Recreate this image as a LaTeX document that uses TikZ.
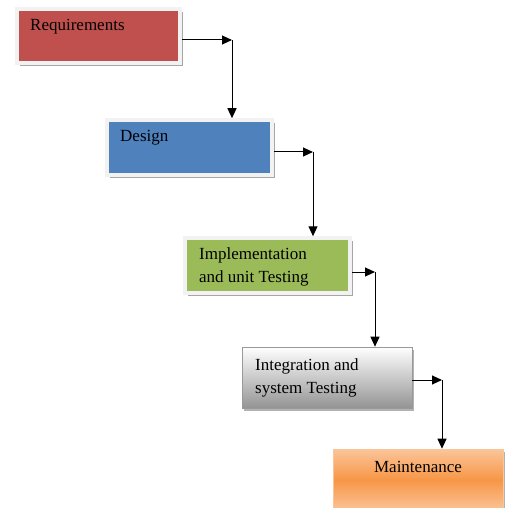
\documentclass[tikz,border=0pt]{standalone}
\usepackage{fontspec}
\setmainfont{Liberation Serif}
\usetikzlibrary{arrows.meta,shadows}
\definecolor{reqred}{HTML}{C0504D}
\definecolor{desblue}{HTML}{4F81BD}
\definecolor{impgreen}{HTML}{9BBB59}
\definecolor{frameg}{HTML}{F2F2F2}
\definecolor{orlight}{HTML}{FBC59A}
\definecolor{ormid}{HTML}{F79646}
\begin{document}
\begin{tikzpicture}[x=1pt,y=-1pt,
  phase/.style={rectangle, inner sep=0pt, draw=frameg, line width=3.5pt,
    drop shadow={shadow xshift=2.5pt, shadow yshift=-3pt, fill=black!35, opacity=1}},
  plainphase/.style={rectangle, inner sep=0pt, draw=black!40, line width=0.6pt,
    drop shadow={shadow xshift=2pt, shadow yshift=-2.5pt, fill=black!30, opacity=1}},
  lbl/.style={anchor=base west, inner sep=0pt, font=\fontsize{17}{23}\selectfont, align=left},
  flow/.style={line width=1pt, -{Triangle[length=10pt,width=9pt]}}
]
\useasboundingbox (0,0) rectangle (509,508);

% boxes
\node[phase, fill=reqred, minimum width=163pt, minimum height=54pt] (req) at (98.5,36) {};
\node[phase, fill=desblue, minimum width=165pt, minimum height=55pt] (des) at (189.5,147.5) {};
\node[phase, fill=impgreen, minimum width=165pt, minimum height=55pt] (imp) at (267.5,265.5) {};
\node[plainphase, top color=white, bottom color=black!42, minimum width=170pt, minimum height=61pt] (int) at (327,377.5) {};
\node[plainphase, draw=orlight, top color=orlight, bottom color=orlight, middle color=ormid, minimum width=170pt, minimum height=62pt] (mnt) at (418,480) {};

% labels
\node[lbl] (treq) at (30,31) {Requirements};
\node[lbl] (tdes) at (120,142) {Design};
\node[lbl] (timp) at (199,282) {Implementation\\and unit Testing};
\node[lbl] (tint) at (255,393) {Integration and\\system Testing};
\node[lbl, anchor=base] (tmnt) at (418,472) {Maintenance};

% corners
\coordinate (c1) at (232,40);
\coordinate (c2) at (313,152);
\coordinate (c3) at (375,272);
\coordinate (c4) at (442,380);

\draw[flow] (req.east |- c1) -- (c1);
\draw[flow] (c1) -- (c1 |- des.north);
\draw[flow] (des.east |- c2) -- (c2);
\draw[flow] (c2) -- (c2 |- imp.north);
\draw[flow] (imp.east |- c3) -- (c3);
\draw[flow] (c3) -- (c3 |- int.north);
\draw[flow] (int.east |- c4) -- (c4);
\draw[flow] (c4) -- (c4 |- mnt.north);
\end{tikzpicture}
\end{document}
